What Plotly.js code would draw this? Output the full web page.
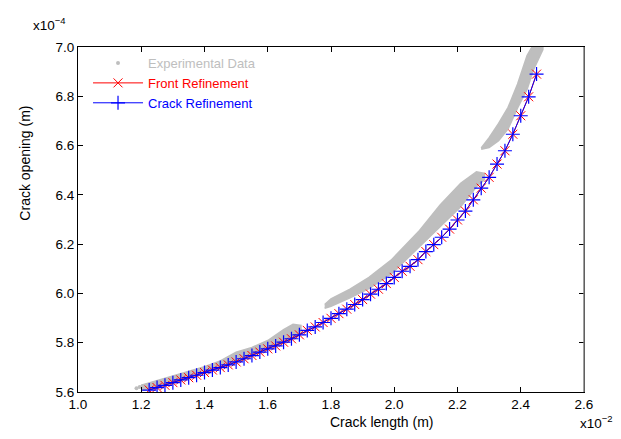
<!DOCTYPE html>
<html>
<head>
<meta charset="utf-8">
<script src="https://cdn.plot.ly/plotly-3.0.1.min.js"></script>
<style>html,body{margin:0;padding:0;background:#fff;}#chart{width:621px;height:439px;}</style>
</head>
<body>
<div id="chart"></div>
<script>
// Model curves (crack length in 1e-2 m, crack opening in 1e-4 m)
const modelX = [1.225,1.250,1.275,1.300,1.325,1.350,1.375,1.400,1.425,1.450,1.475,1.500,1.525,1.550,1.575,1.600,1.625,1.650,1.675,1.700,1.725,1.750,1.775,1.800,1.825,1.850,1.875,1.900,1.925,1.950,1.975,2.000,2.025,2.050,2.075,2.100,2.125,2.150,2.175,2.200,2.225,2.250,2.275,2.300,2.325,2.350,2.375,2.400,2.425,2.450];
const frontY = [5.608,5.618,5.627,5.638,5.649,5.658,5.668,5.679,5.689,5.699,5.710,5.722,5.735,5.748,5.762,5.775,5.787,5.802,5.816,5.832,5.850,5.864,5.882,5.899,5.918,5.936,5.955,5.975,5.997,6.017,6.040,6.065,6.090,6.110,6.137,6.170,6.198,6.228,6.261,6.298,6.334,6.380,6.427,6.471,6.525,6.579,6.646,6.721,6.798,6.890];
const crackY = [5.608,5.618,5.627,5.638,5.649,5.658,5.668,5.679,5.689,5.699,5.710,5.722,5.735,5.748,5.762,5.775,5.787,5.802,5.816,5.832,5.850,5.864,5.882,5.899,5.918,5.936,5.955,5.975,5.997,6.017,6.040,6.065,6.090,6.110,6.137,6.170,6.198,6.228,6.261,6.298,6.334,6.380,6.427,6.471,6.525,6.579,6.646,6.721,6.798,6.890];

// Experimental data bands (three segments): x, lower and upper edge
const expAx  = [1.200,1.250,1.300,1.350,1.400,1.450,1.500,1.550,1.600,1.650,1.680,1.705];
const expAlo = [5.606,5.615,5.634,5.655,5.676,5.697,5.719,5.746,5.773,5.800,5.815,5.838];
const expAhi = [5.628,5.648,5.665,5.684,5.703,5.726,5.762,5.781,5.809,5.853,5.875,5.870];
const expBx  = [1.780,1.800,1.860,1.920,1.990,2.040,2.080,2.145,2.210,2.260,2.285];
const expBlo = [5.940,5.948,5.982,6.020,6.078,6.140,6.188,6.268,6.352,6.433,6.462];
const expBhi = [5.955,5.978,6.017,6.065,6.135,6.200,6.255,6.359,6.447,6.494,6.487];
const expCx  = [2.275,2.300,2.330,2.360,2.390,2.420,2.440,2.470];
const expClo = [6.585,6.592,6.620,6.668,6.753,6.828,6.907,6.990];
const expChi = [6.590,6.632,6.690,6.755,6.850,6.965,7.010,7.010];
// isolated experimental points
const expPx = [1.185,1.195,1.205];
const expPy = [5.615,5.620,5.624];

const xTicks = [1.0,1.2,1.4,1.6,1.8,2.0,2.2,2.4,2.6];
const yTicks = [5.6,5.8,6.0,6.2,6.4,6.6,6.8,7.0];

const GRAY = '#bebebe', RED = '#ff0000', BLUE = '#0000ff';
const FONT = 'Liberation Sans, Arial, Helvetica, sans-serif';

function band(x, lo, hi) {
  return {
    x: x.concat(x.slice().reverse()),
    y: lo.concat(hi.slice().reverse()),
    mode: 'lines', fill: 'toself', fillcolor: GRAY,
    line: {color: GRAY, width: 1.5}, showlegend: false,
    legendgroup: 'exp', hoverinfo: 'skip'
  };
}

const traces = [
  {x: expPx, y: expPy, mode: 'markers', name: '<span style="color:#bebebe">Experimental Data</span>',
   marker: {color: GRAY, size: 4}, legendgroup: 'exp'},
  band(expAx, expAlo, expAhi),
  band(expBx, expBlo, expBhi),
  band(expCx, expClo, expChi),
  {x: modelX, y: frontY, mode: 'lines+markers', name: '<span style="color:#ff0000">Front Refinement</span>',
   line: {color: RED, width: 1},
   marker: {symbol: 'x-thin-open', size: 9, color: RED, line: {color: RED, width: 1}}},
  {x: modelX, y: crackY, mode: 'lines+markers', name: '<span style="color:#0000ff">Crack Refinement</span>',
   line: {color: BLUE, width: 1},
   marker: {symbol: 'cross-thin-open', size: 10, color: BLUE, line: {color: BLUE, width: 1.2}}}
];

const layout = {
  width: 621, height: 439,
  margin: {l: 78, r: 37, t: 47, b: 47},
  paper_bgcolor: '#fff', plot_bgcolor: '#fff',
  font: {family: FONT, size: 13.5, color: '#000'},
  showlegend: true,
  legend: {x: 0.0198, y: 0.997, xanchor: 'left', yanchor: 'top', bgcolor: 'rgba(0,0,0,0)',
           font: {family: FONT, size: 13}, itemwidth: 50, tracegroupgap: 0},
  xaxis: {range: [1.0, 2.6], tickvals: xTicks, tickformat: '.1f', ticks: 'inside', ticklen: 5,
          tickcolor: '#000', linecolor: '#000', linewidth: 1, mirror: 'ticks', showgrid: false,
          zeroline: false, tickfont: {family: FONT, size: 13.5}},
  yaxis: {range: [5.6, 7.0], tickvals: yTicks, tickformat: '.1f', ticks: 'inside', ticklen: 5,
          tickcolor: '#000', linecolor: '#000', linewidth: 1, mirror: 'ticks', showgrid: false,
          zeroline: false, tickfont: {family: FONT, size: 13.5}},
  shapes: [{type: 'line', xref: 'paper', yref: 'paper', x0: 1, x1: 1, y0: 0, y1: 1,
            line: {color: '#808080', width: 1.5}, layer: 'above'}],
  annotations: [
    {text: 'Crack length (m)', xref: 'paper', yref: 'paper', x: 0.6, y: -0.087,
     xanchor: 'center', yanchor: 'middle', showarrow: false, font: {family: FONT, size: 14}},
    {text: 'Crack opening (m)', xref: 'paper', yref: 'paper', x: -0.104, y: 0.663,
     xanchor: 'center', yanchor: 'middle', textangle: -90, showarrow: false, font: {family: FONT, size: 14}},
    {text: 'x10<sup>−4</sup>', xref: 'paper', yref: 'paper', x: -0.093, y: 1.067,
     xanchor: 'left', yanchor: 'middle', showarrow: false, font: {family: FONT, size: 13.5}},
    {text: 'x10<sup>−2</sup>', xref: 'paper', yref: 'paper', x: 0.988, y: -0.087,
     xanchor: 'left', yanchor: 'middle', showarrow: false, font: {family: FONT, size: 13.5}}
  ]
};

Plotly.newPlot('chart', traces, layout, {displayModeBar: false, staticPlot: true});
</script>
</body>
</html>
